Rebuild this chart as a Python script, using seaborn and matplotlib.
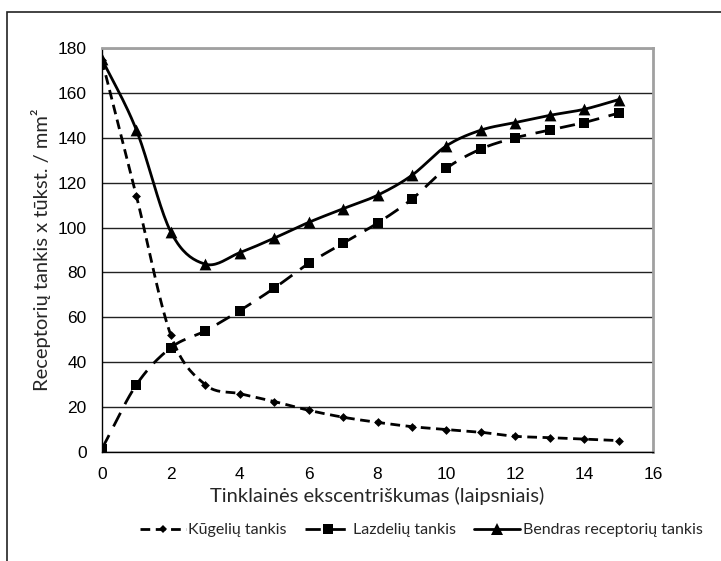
import numpy as np
import pandas as pd
import matplotlib
matplotlib.use("Agg")
import matplotlib.pyplot as plt
import seaborn as sns
from matplotlib.lines import Line2D
from matplotlib.patches import Rectangle

# eccentricity (degrees)
ecc = [0, 1, 2, 3, 4, 5, 6, 7, 8, 9, 10, 11, 12, 13, 14, 15]
cones = [174.5, 114, 52, 30, 26, 22.5, 18.6, 15.5, 13.2, 11.3, 10, 8.8, 7, 6.4, 5.7, 5.1]
rods = [1.5, 30, 46.5, 54, 63, 73, 84, 93, 102, 112.7, 126.4, 135, 140, 143.4, 146.8, 151]
total = [175, 143.4, 98, 83.7, 88.8, 95.3, 102.3, 108.4, 114.4, 123.3, 136.4, 143.4, 146.8, 150, 152.7, 157]

labels = ["Kūgelių tankis", "Lazdelių tankis", "Bendras receptorių tankis"]

df = pd.DataFrame({"ecc": ecc, "cones": cones, "rods": rods, "total": total})


def smooth(x, y, n=20):
    # catmull-rom curve through the points, like excel's smoothed line
    x = np.asarray(x, float)
    y = np.asarray(y, float)
    px = np.r_[2 * x[0] - x[1], x, 2 * x[-1] - x[-2]]
    py = np.r_[2 * y[0] - y[1], y, 2 * y[-1] - y[-2]]
    xs, ys = [], []
    t = np.linspace(0, 1, n, endpoint=False)
    for i in range(1, len(px) - 2):
        for p, out in ((px, xs), (py, ys)):
            p0, p1, p2, p3 = p[i - 1], p[i], p[i + 1], p[i + 2]
            out.extend(0.5 * (2 * p1 + (-p0 + p2) * t
                              + (2 * p0 - 5 * p1 + 4 * p2 - p3) * t ** 2
                              + (-p0 + 3 * p1 - 3 * p2 + p3) * t ** 3))
    xs.append(x[-1])
    ys.append(y[-1])
    return np.array(xs), np.array(ys)


sns.set_theme(style="white")
plt.rcParams.update({
    "font.family": ["Liberation Sans", "DejaVu Sans"],
    "axes.edgecolor": "black",
    "xtick.color": "black",
    "ytick.color": "black",
})
label_font = ["Lato", "DejaVu Sans"]

fig = plt.figure(figsize=(7.21, 5.61), dpi=100)
ax = fig.add_axes([0.1415, 0.1943, 0.7642, 0.7201])

# outer chart border (only left and top visible)
fig.patches.append(Rectangle((7 / 721, -0.1), 1.2, (561 - 12) / 561 + 0.1,
                             transform=fig.transFigure, fill=False,
                             edgecolor="#222222", linewidth=1.2))

lw = 2.0
styles = {
    "cones": dict(marker="D", ms=4.5, dashes=(3.5, 2)),
    "rods": dict(marker="s", ms=7.5, dashes=(5.5, 3.5)),
    "total": dict(marker="^", ms=8.5, dashes=None),
}

for col in ["cones", "rods", "total"]:
    sx, sy = smooth(df["ecc"], df[col])
    st = styles[col]
    line, = ax.plot(sx, sy, color="black", lw=lw, zorder=3)
    if st["dashes"]:
        line.set_dashes(st["dashes"])
    sns.scatterplot(data=df, x="ecc", y=col, marker=st["marker"], s=st["ms"] ** 2,
                    color="black", edgecolor="black", linewidth=0, ax=ax, zorder=4)

ax.set_xlim(0, 16)
ax.set_ylim(0, 180)
ax.set_xticks(range(0, 17, 2))
ax.set_yticks(range(0, 181, 20))
ax.tick_params(axis="both", labelsize=12.5, length=5, width=1, direction="out", pad=6)
ax.tick_params(axis="x", pad=6)

ax.yaxis.grid(True, color="#222222", linewidth=1)
ax.set_axisbelow(True)
for s in ["top", "right"]:
    ax.spines[s].set_color("#a0a0a0")
    ax.spines[s].set_linewidth(2)
for s in ["left", "bottom"]:
    ax.spines[s].set_color("black")
    ax.spines[s].set_linewidth(1)

ax.set_xlabel("Tinklainės ekscentriškumas (laipsniais)", fontsize=14.5,
              family=label_font, labelpad=3)
ax.set_ylabel("Receptorių tankis x tūkst. / mm²", fontsize=14.5,
              family=label_font, labelpad=5)

handles = []
for col in ["cones", "rods", "total"]:
    st = styles[col]
    h = Line2D([], [], color="black", lw=lw, marker=st["marker"], ms=st["ms"],
               markeredgewidth=0)
    if st["dashes"]:
        h.set_dashes(st["dashes"])
    handles.append(h)

fig.legend(handles, labels, loc="center", bbox_to_anchor=(0.584, 0.055), ncol=3,
           frameon=False, handlelength=2.9, handletextpad=0.15, columnspacing=1.1,
           prop={"family": label_font, "size": 11.5})

fig.savefig("out.png", dpi=100)
